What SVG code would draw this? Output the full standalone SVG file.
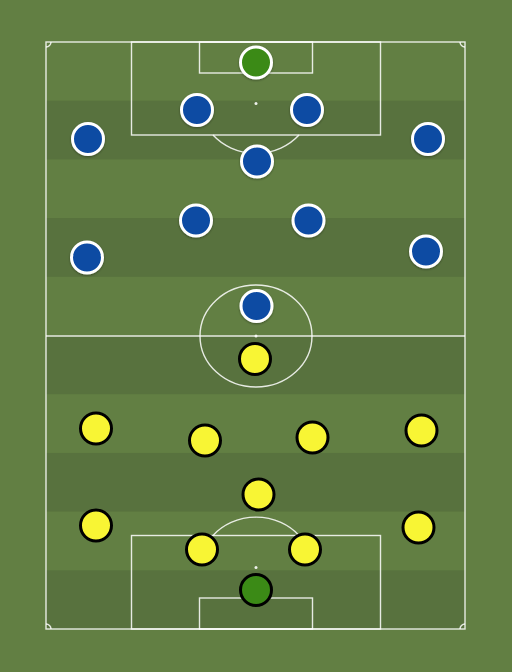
<svg xmlns="http://www.w3.org/2000/svg" width="512" height="672" viewBox="0 0 512 672">
<style>
.line{fill:none;stroke:#ffffff;stroke-opacity:0.85;stroke-width:1.4}
.dot{fill:#ffffff;fill-opacity:0.9}
.band{fill:#58723e}
.blue{fill:#0d4ba3;stroke:#ffffff;stroke-width:3}
.yellow{fill:#f8f534;stroke:#000000;stroke-width:3}
.gkb{fill:#3b8a16;stroke:#ffffff;stroke-width:3}
.gky{fill:#3b8a16;stroke:#000000;stroke-width:3}
</style>
<defs>
<filter id="sh" x="-30%" y="-30%" width="160%" height="160%">
<feDropShadow dx="0" dy="1" stdDeviation="1" flood-color="#000" flood-opacity="0.35"/>
</filter>
</defs>
<rect width="512" height="672" fill="#627f43"/>
<g id="pitch">
<rect class="band" x="46" y="100.7" width="419" height="58.7"/>
<rect class="band" x="46" y="218.1" width="419" height="58.7"/>
<rect class="band" x="46" y="335.5" width="419" height="58.7"/>
<rect class="band" x="46" y="452.9" width="419" height="58.7"/>
<rect class="band" x="46" y="570.3" width="419" height="58.7"/>
<rect class="line" x="46" y="42" width="419" height="587"/>
<line class="line" x1="46" y1="336" x2="465" y2="336"/>
<ellipse class="line" cx="256" cy="336" rx="56" ry="51"/>
<circle class="dot" cx="256" cy="336" r="1.5"/>
<rect class="line" x="131.5" y="42" width="249" height="93"/>
<rect class="line" x="199.5" y="42" width="113" height="31"/>
<circle class="dot" cx="256" cy="103.5" r="1.5"/>
<path class="line" d="M213 135 A56 51 0 0 0 299 135"/>
<rect class="line" x="131.5" y="535.5" width="249" height="93.5"/>
<rect class="line" x="199.5" y="598" width="113" height="31"/>
<circle class="dot" cx="256" cy="567.5" r="1.5"/>
<path class="line" d="M213 535.5 A56 51 0 0 1 299 535.5"/>
<path class="line" d="M46 47 A5 5 0 0 0 51 42"/>
<path class="line" d="M460 42 A5 5 0 0 0 465 47"/>
<path class="line" d="M46 624 A5 5 0 0 1 51 629"/>
<path class="line" d="M460 629 A5 5 0 0 1 465 624"/>
</g>
<g id="connectors"></g>
<g id="team-blue" filter="url(#sh)">
<g id="b1"><circle class="gkb" cx="256" cy="62.5" r="15.5"/></g>
<g id="b2"><circle class="blue" cx="197" cy="110" r="15.5"/></g>
<g id="b3"><circle class="blue" cx="307" cy="110" r="15.5"/></g>
<g id="b4"><circle class="blue" cx="88" cy="139" r="15.5"/></g>
<g id="b5"><circle class="blue" cx="428" cy="139" r="15.5"/></g>
<g id="b6"><circle class="blue" cx="257" cy="161.5" r="15.5"/></g>
<g id="b7"><circle class="blue" cx="196" cy="220.5" r="15.5"/></g>
<g id="b8"><circle class="blue" cx="308.5" cy="220.5" r="15.5"/></g>
<g id="b9"><circle class="blue" cx="87" cy="257.5" r="15.5"/></g>
<g id="b10"><circle class="blue" cx="426" cy="251.5" r="15.5"/></g>
<g id="b11"><circle class="blue" cx="256.5" cy="306" r="15.5"/></g>
</g>
<g id="team-yellow">
<g id="y1"><circle class="yellow" cx="255" cy="359" r="15.5"/></g>
<g id="y2"><circle class="yellow" cx="96" cy="428.5" r="15.5"/></g>
<g id="y3"><circle class="yellow" cx="205" cy="440.5" r="15.5"/></g>
<g id="y4"><circle class="yellow" cx="312.5" cy="437.5" r="15.5"/></g>
<g id="y5"><circle class="yellow" cx="421.5" cy="430.5" r="15.5"/></g>
<g id="y6"><circle class="yellow" cx="258.5" cy="494.5" r="15.5"/></g>
<g id="y7"><circle class="yellow" cx="96" cy="525.5" r="15.5"/></g>
<g id="y8"><circle class="yellow" cx="418.5" cy="527.5" r="15.5"/></g>
<g id="y9"><circle class="yellow" cx="202" cy="549.5" r="15.5"/></g>
<g id="y10"><circle class="yellow" cx="305" cy="549.5" r="15.5"/></g>
<g id="y11"><circle class="gky" cx="256" cy="590" r="15.5"/></g>
</g>
</svg>
